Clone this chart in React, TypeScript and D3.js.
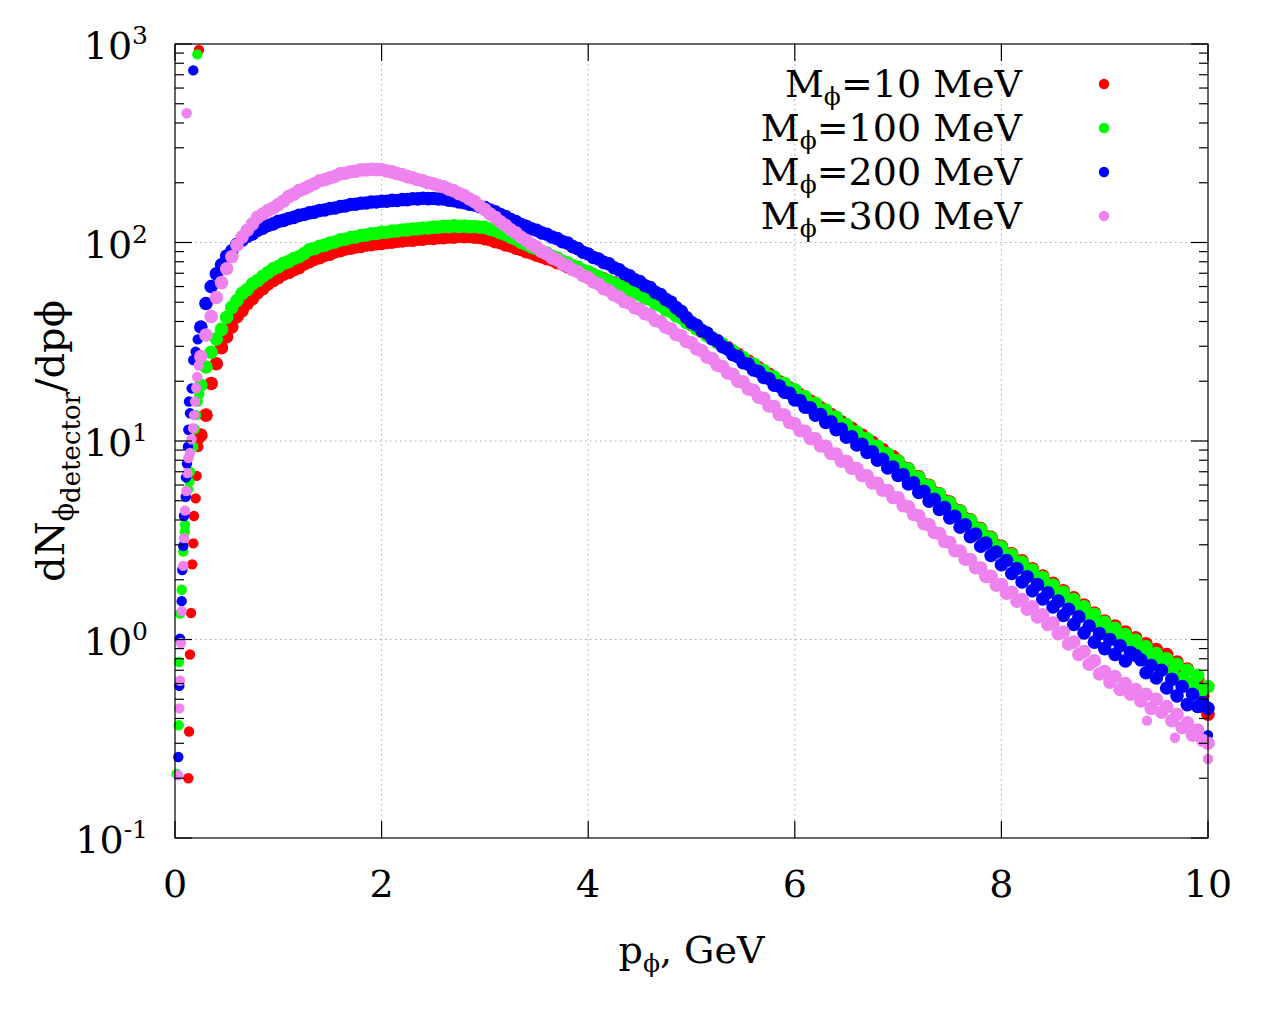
import React, { useEffect, useRef } from 'react';
import * as d3 from 'd3';

// dN/dp spectra of phi reaching the detector.
// Dense part: bins every 0.05 GeV starting at 0.25 GeV.
const pStart = 0.25;
const pStep = 0.05;

const redVals = [
  10.7, 13.5, 19.5, 24.5, 29.5,
  33.5, 37.6, 42.3, 45.4, 49.3, 52.2, 55.9, 58.6, 61.9, 64.3,
  66.5, 69.3, 70.6, 72.9, 74.7, 77.9, 80.1, 82.5, 83.8, 86.4,
  87.4, 89.8, 90.9, 92.8, 93.5, 95.1, 95.6, 97.2, 97.4, 98.7,
  98.8, 100.2, 100.3, 101.6, 101.7, 102.6, 102.8, 103.9, 103.9, 105.1,
  104.9, 105.8, 105.6, 106.8, 106.4, 107.5, 106.9, 107.4, 106.3, 106.1,
  104.4, 103.3, 100.9, 99.8, 97.3, 96.2, 93.7, 92.3, 89.9, 88.5,
  86.2, 84.9, 82.8, 81.6, 79.1, 77.9, 75.6, 74.6, 72.5, 71.5,
  69.7, 68.7, 66.5, 65.6, 63.5, 62.7, 60.7, 59.9, 57.9, 57.0,
  55.0, 54.3, 52.2, 51.0, 48.7, 47.6, 45.4, 44.3, 41.9, 40.8,
  38.6, 37.7, 35.6, 34.8, 32.8, 32.1, 30.2, 29.6, 27.9, 27.3,
  25.8, 25.3, 23.7, 23.4, 21.9, 21.7, 20.3, 19.9, 18.8, 18.5,
  17.3, 17.1, 16.0, 15.9, 14.8, 14.7, 13.7, 13.6, 12.6, 12.5,
  11.7, 11.6, 10.8, 10.7, 9.9, 9.85, 9.1, 9.05, 8.4, 8.35,
  7.95, 7.35, 7.25, 6.65, 6.6, 6.05, 5.98, 5.5, 5.42, 5.0,
  4.93, 4.52, 4.45, 4.07, 4.01, 3.66, 3.62, 3.3, 3.27, 2.98,
  2.95, 2.7, 2.7, 2.46, 2.49, 2.25, 2.27, 2.06, 2.09, 1.89,
  1.92, 1.72, 1.76, 1.57, 1.62, 1.44, 1.49, 1.32, 1.36, 1.21,
  1.24, 1.11, 1.17, 1.03, 1.09, 0.96, 1.02, 0.9, 0.95, 0.84,
  0.89, 0.79, 0.84, 0.72, 0.77, 0.66, 0.71, 0.6, 0.63, 0.52,
  0.42,
];

const greenVals = [
  19.1, 23.6, 28.0, 32.7, 36.5,
  42.0, 47.1, 51.0, 55.4, 57.9, 62.0, 64.3, 67.6, 70.5, 73.6,
  75.6, 78.5, 80.1, 83.1, 84.8, 88.0, 91.9, 93.2, 95.8, 97.0,
  99.4, 100.6, 103.1, 103.9, 106.0, 106.6, 108.4, 109.1, 110.7, 111.1,
  112.5, 112.7, 114.1, 114.3, 115.7, 115.8, 117.0, 117.2, 118.4, 118.3,
  119.5, 119.4, 120.6, 120.2, 121.2, 120.5, 121.0, 120.2, 120.4, 119.4,
  119.2, 116.7, 115.1, 111.9, 109.9, 106.4, 103.8, 100.4, 98.0, 95.0,
  93.2, 90.1, 88.4, 85.2, 83.5, 80.4, 78.8, 76.3, 74.9, 72.3,
  71.1, 68.7, 67.4, 65.2, 64.1, 61.9, 61.0, 58.7, 57.8, 55.7,
  54.6, 52.4, 51.6, 49.2, 48.2, 45.9, 45.0, 42.8, 41.8, 39.6,
  38.8, 36.7, 35.9, 33.9, 33.2, 31.4, 30.8, 29.0, 28.5, 26.8,
  26.3, 24.7, 24.4, 22.9, 22.6, 21.2, 21.0, 19.6, 19.5, 18.2,
  18.1, 16.8, 16.7, 15.5, 15.5, 14.3, 14.3, 13.1, 13.2, 12.1,
  12.1, 11.2, 11.1, 10.3, 10.25, 9.45, 9.4, 8.68, 8.62, 7.98,
  7.92, 7.28, 7.2, 6.6, 6.55, 6.0, 5.95, 5.43, 5.4, 4.93,
  4.88, 4.46, 4.42, 4.02, 3.98, 3.62, 3.59, 3.26, 3.24, 2.94,
  2.92, 2.66, 2.67, 2.43, 2.45, 2.22, 2.24, 2.03, 2.05, 1.86,
  1.88, 1.69, 1.73, 1.55, 1.59, 1.41, 1.46, 1.3, 1.34, 1.19,
  1.22, 1.09, 1.14, 1.01, 1.06, 0.93, 0.99, 0.87, 0.92, 0.8,
  0.85, 0.75, 0.8, 0.69, 0.75, 0.64, 0.7, 0.6, 0.66, 0.56,
  0.58,
];

const blueVals = [
  37.5, 49.3, 60.0, 69.5, 77.2,
  85.4, 90.8, 98.0, 102.6, 107.6, 110.5, 115.2, 118.0, 121.9, 124.1,
  127.8, 129.3, 132.2, 133.9, 136.9, 138.3, 141.0, 142.2, 144.9, 145.8,
  148.3, 149.2, 151.8, 152.7, 155.3, 155.9, 157.8, 158.1, 160.0, 159.9,
  161.5, 161.4, 163.0, 162.9, 164.5, 164.4, 166.0, 165.9, 167.1, 166.3,
  166.7, 165.6, 165.6, 163.3, 162.6, 159.9, 158.9, 155.9, 154.6, 151.7,
  150.0, 145.5, 142.6, 138.3, 135.3, 130.5, 127.5, 123.2, 120.6, 117.1,
  115.2, 111.8, 110.0, 106.5, 104.6, 101.0, 99.3, 95.3, 93.1, 89.3,
  87.5, 84.1, 82.6, 79.4, 78.0, 74.6, 72.8, 69.6, 68.0, 64.9,
  63.5, 60.6, 59.3, 56.1, 54.7, 51.7, 50.1, 47.0, 45.0, 41.9,
  39.5, 38.3, 36.0, 35.0, 32.8, 31.9, 29.9, 29.1, 27.2, 26.6,
  24.8, 24.4, 22.8, 22.4, 20.9, 20.6, 19.1, 18.9, 17.6, 17.4,
  16.1, 16.0, 14.8, 14.7, 13.5, 13.6, 12.4, 12.5, 11.4, 11.5,
  10.45, 10.5, 9.55, 9.62, 8.75, 8.82, 8.0, 8.08, 7.32, 7.4,
  6.7, 6.75, 6.08, 6.15, 5.5, 5.58, 4.98, 5.08, 4.52, 4.62,
  4.1, 4.18, 3.68, 3.78, 3.3, 3.4, 2.95, 3.06, 2.65, 2.76,
  2.38, 2.5, 2.15, 2.28, 1.95, 2.07, 1.76, 1.89, 1.6, 1.72,
  1.46, 1.56, 1.32, 1.42, 1.19, 1.3, 1.08, 1.17, 0.97, 1.07,
  0.9, 1.0, 0.84, 0.93, 0.78, 0.86, 0.83, 0.79, 0.68, 0.74,
  0.64, 0.7, 0.57, 0.63, 0.52, 0.58, 0.47, 0.53, 0.46, 0.48,
  0.45,
];

const violetVals = [
  26.6, 34.2, 42.4, 52.8, 62.8,
  73.7, 84.7, 97.0, 106.8, 115.3, 124.1, 133.8, 139.2, 145.0, 149.2,
  155.4, 161.7, 170.3, 175.3, 182.6, 186.6, 192.4, 197.7, 204.8, 207.4,
  211.9, 215.8, 221.9, 223.4, 227.1, 228.6, 232.2, 232.3, 233.8, 232.9,
  232.7, 229.1, 226.9, 222.3, 219.3, 214.8, 211.8, 207.5, 204.7, 200.0,
  197.6, 193.7, 190.9, 185.8, 182.0, 176.2, 172.2, 165.6, 160.7, 152.7,
  146.6, 139.2, 133.8, 127.0, 122.0, 116.0, 111.8, 106.3, 102.7, 97.8,
  94.8, 90.2, 87.5, 83.7, 81.7, 78.1, 76.3, 72.9, 71.2, 68.0,
  66.5, 63.3, 61.8, 58.6, 57.3, 54.4, 53.1, 50.4, 49.4, 46.9,
  46.1, 43.8, 43.1, 40.5, 39.8, 37.4, 36.7, 34.4, 33.9, 31.7,
  31.2, 29.1, 28.5, 26.5, 26.0, 24.1, 23.7, 22.0, 21.7, 20.0,
  19.8, 18.3, 18.0, 16.6, 16.4, 15.0, 14.9, 13.6, 13.5, 12.4,
  12.2, 11.3, 11.2, 10.3, 10.25, 9.45, 9.4, 8.65, 8.6, 7.92,
  7.9, 7.3, 7.27, 6.7, 6.68, 6.15, 6.13, 5.65, 5.63, 5.19,
  5.17, 4.72, 4.66, 4.26, 4.2, 3.83, 3.78, 3.46, 3.42, 3.12,
  3.08, 2.8, 2.79, 2.54, 2.53, 2.3, 2.29, 2.08, 2.08, 1.88,
  1.89, 1.71, 1.73, 1.56, 1.59, 1.42, 1.46, 1.3, 1.33, 1.19,
  1.21, 1.07, 1.09, 0.95, 0.97, 0.84, 0.87, 0.75, 0.78, 0.67,
  0.69, 0.61, 0.65, 0.56, 0.6, 0.53, 0.56, 0.49, 0.53, 0.45,
  0.5, 0.43, 0.46, 0.39, 0.42, 0.36, 0.38, 0.33, 0.35, 0.31,
  0.30,
];

// sparse points below 0.25 GeV (and the first bin spike), [p, dN/dp]
const redLow = [
  [0.129, 0.2], [0.136, 0.344], [0.145, 0.84], [0.155, 1.36], [0.167, 2.39],
  [0.177, 3.05], [0.184, 4.19], [0.2, 5.14], [0.21, 6.67], [0.226, 9.35],
  [0.235, 10.2], [0.232, 933], [9.95, 0.45],
];
const greenLow = [
  [0.016, 0.21], [0.036, 0.37], [0.039, 0.77], [0.048, 1.35], [0.065, 1.78],
  [0.08, 2.77], [0.094, 3.49], [0.097, 3.78], [0.126, 5.7], [0.139, 6.24],
  [0.145, 7.0], [0.177, 9.35], [0.19, 11.5], [0.205, 13.5], [0.22, 15.8],
  [0.235, 17.2], [0.216, 887],
];
const blueLow = [
  [0.032, 0.256], [0.042, 0.585], [0.048, 1.01], [0.065, 1.56], [0.071, 2.24],
  [0.08, 2.96], [0.087, 4.19], [0.104, 5.24], [0.106, 6.56], [0.116, 7.7],
  [0.125, 9.35], [0.129, 11.4], [0.145, 13.8], [0.135, 15.8], [0.161, 18.4],
  [0.177, 25.6], [0.2, 28.2], [0.22, 32.5], [0.177, 736], [10.0, 0.33],
];
const violetLow = [
  [0.03, 0.207], [0.042, 0.45], [0.048, 0.62], [0.058, 0.96], [0.065, 1.39],
  [0.08, 2.35], [0.087, 3.24], [0.097, 4.46], [0.11, 5.6], [0.12, 6.9],
  [0.13, 8.2], [0.145, 8.7], [0.16, 10.2], [0.175, 11.6], [0.185, 13.5],
  [0.195, 15.8], [0.205, 18.5], [0.215, 21.0], [0.23, 24.0], [0.113, 448],
  [9.41, 0.39], [9.68, 0.32], [10.0, 0.25],
];

const massLabels = ['10', '100', '200', '300'];
const colors = ['#ff0000', '#00ff00', '#0000ff', '#ee82ee'];
const xTicks = [0, 2, 4, 6, 8, 10];
const yDecades = [-1, 0, 1, 2, 3];

const W = 1280;
const H = 1024;
const plot = { left: 175, right: 1208, top: 44, bottom: 838 };
const FONT = '"DejaVu Serif", serif';
const FS = 38;
const FS_SMALL = 25;

const App: React.FC = () => {
  const svgRef = useRef<SVGSVGElement>(null);

  useEffect(() => {
    if (!svgRef.current) return;
    const svg = d3.select(svgRef.current);
    svg.selectAll('*').remove();

    const x = d3.scaleLinear().domain([0, 10]).range([plot.left, plot.right]);
    const y = d3.scaleLog().domain([0.1, 1000]).range([plot.bottom, plot.top]);

    svg.append('rect').attr('width', W).attr('height', H).attr('fill', '#fff');

    // grid
    const grid = svg.append('g')
      .attr('stroke', '#a8a8a8')
      .attr('stroke-width', 1)
      .attr('stroke-dasharray', '1.5,3.5');
    xTicks.slice(1, -1).forEach(t => {
      grid.append('line')
        .attr('x1', x(t)).attr('x2', x(t))
        .attr('y1', plot.top).attr('y2', plot.bottom);
    });
    yDecades.slice(1, -1).forEach(d => {
      grid.append('line')
        .attr('x1', plot.left).attr('x2', plot.right)
        .attr('y1', y(10 ** d)).attr('y2', y(10 ** d));
    });

    // data: sparse points at the true marker size, dense bins a bit fuller
    const series = [
      { vals: redVals, low: redLow },
      { vals: greenVals, low: greenLow },
      { vals: blueVals, low: blueLow },
      { vals: violetVals, low: violetLow },
    ];
    series.forEach((s, i) => {
      const g = svg.append('g').attr('fill', colors[i]);
      g.selectAll('circle.low')
        .data(s.low)
        .enter()
        .append('circle')
        .attr('class', 'low')
        .attr('cx', d => x(d[0]))
        .attr('cy', d => y(d[1]))
        .attr('r', 5.2);
      g.selectAll('circle.bin')
        .data(s.vals)
        .enter()
        .append('circle')
        .attr('class', 'bin')
        .attr('cx', (_, j) => x(pStart + j * pStep))
        .attr('cy', d => y(d))
        .attr('r', 6.8);
    });

    // border
    svg.append('rect')
      .attr('x', plot.left).attr('y', plot.top)
      .attr('width', plot.right - plot.left)
      .attr('height', plot.bottom - plot.top)
      .attr('fill', 'none')
      .attr('stroke', '#000')
      .attr('stroke-width', 1.2);

    const ticks = svg.append('g').attr('stroke', '#000').attr('stroke-width', 1.2);
    xTicks.forEach(t => {
      ticks.append('line').attr('x1', x(t)).attr('x2', x(t))
        .attr('y1', plot.bottom).attr('y2', plot.bottom - 17);
      ticks.append('line').attr('x1', x(t)).attr('x2', x(t))
        .attr('y1', plot.top).attr('y2', plot.top + 17);
    });
    yDecades.forEach(d => {
      const base = 10 ** d;
      ticks.append('line').attr('x1', plot.left).attr('x2', plot.left + 17)
        .attr('y1', y(base)).attr('y2', y(base));
      ticks.append('line').attr('x1', plot.right).attr('x2', plot.right - 17)
        .attr('y1', y(base)).attr('y2', y(base));
      if (d < 3) {
        for (let m = 2; m <= 9; m++) {
          const v = m * base;
          ticks.append('line').attr('x1', plot.left).attr('x2', plot.left + 9)
            .attr('y1', y(v)).attr('y2', y(v));
          ticks.append('line').attr('x1', plot.right).attr('x2', plot.right - 9)
            .attr('y1', y(v)).attr('y2', y(v));
        }
      }
    });

    // tick labels
    xTicks.forEach(t => {
      svg.append('text')
        .attr('x', x(t)).attr('y', plot.bottom + 59)
        .attr('text-anchor', 'middle')
        .attr('font-family', FONT).attr('font-size', FS)
        .text(String(t));
    });
    yDecades.forEach(d => {
      const t = svg.append('text')
        .attr('x', 148).attr('y', y(10 ** d) + 15)
        .attr('text-anchor', 'end')
        .attr('font-family', FONT).attr('font-size', FS);
      t.append('tspan').text('10');
      t.append('tspan').attr('dy', -15).attr('font-size', FS_SMALL).text(String(d));
    });

    // axis titles
    const xl = svg.append('text')
      .attr('x', (plot.left + plot.right) / 2).attr('y', 963)
      .attr('text-anchor', 'middle')
      .attr('font-family', FONT).attr('font-size', FS);
    xl.append('tspan').text('p');
    xl.append('tspan').attr('dy', 9).attr('font-size', FS_SMALL).text('ϕ');
    xl.append('tspan').attr('dy', -9).text(', GeV');

    const yl = svg.append('text')
      .attr('transform', `translate(64, ${(plot.top + plot.bottom) / 2}) rotate(-90)`)
      .attr('text-anchor', 'middle')
      .attr('font-family', FONT).attr('font-size', 40);
    yl.append('tspan').text('dN');
    yl.append('tspan').attr('dy', 9).attr('font-size', 27).text('ϕ');
    yl.append('tspan').attr('dy', 7).attr('font-size', 26).text('detector');
    yl.append('tspan').attr('dy', -16).text('/dpϕ');

    // legend
    massLabels.forEach((m, i) => {
      const by = 97 + i * 44;
      const t = svg.append('text')
        .attr('x', 1022).attr('y', by)
        .attr('text-anchor', 'end')
        .attr('font-family', FONT).attr('font-size', FS);
      t.append('tspan').text('M');
      t.append('tspan').attr('dy', 8).attr('font-size', FS_SMALL).text('ϕ');
      t.append('tspan').attr('dy', -8).text(`=${m} MeV`);
      svg.append('circle')
        .attr('cx', 1104).attr('cy', by - 13)
        .attr('r', 5.2)
        .attr('fill', colors[i]);
    });
  }, []);

  return (
    <svg
      ref={svgRef}
      width={W}
      height={H}
      style={{ position: 'absolute', left: 0, top: 0 }}
    />
  );
};

export default App;
